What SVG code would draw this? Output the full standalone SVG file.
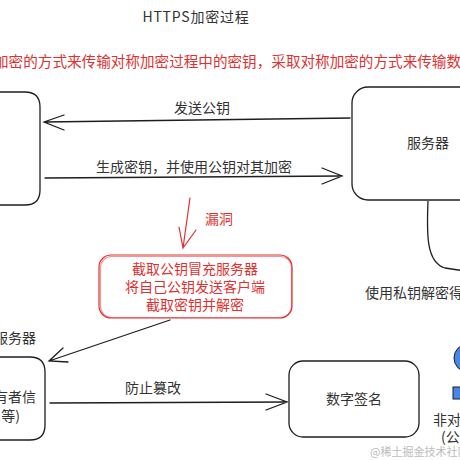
<svg xmlns="http://www.w3.org/2000/svg" width="460" height="460" viewBox="0 0 460 460">
<style>
.t{font-family:"Noto Sans CJK SC","Liberation Sans",sans-serif;font-size:14px;fill:#333}
.r{fill:#e03131}
.box{fill:none;stroke:#1e1e1e;stroke-width:1.3}
.rbox{fill:none;stroke:#e03131;stroke-width:1.2}
.ln{fill:none;stroke:#1e1e1e;stroke-width:1.3;stroke-linecap:round}
.rl{fill:none;stroke:#e03131;stroke-width:1.2;stroke-linecap:round}
</style>
<rect width="460" height="460" fill="#fff"/>
<text class="t" x="196" y="22" text-anchor="middle" style="font-size:14px;letter-spacing:0.8px">HTTPS加密过程</text>
<text class="t r" x="-6" y="67" style="font-size:14.6px">加密的方式来传输对称加密过程中的密钥，采取对称加密的方式来传输数据</text>

<g id="client">
<path class="box" d="M-20 92 L25 92 Q40 92 40 107 L40 190 Q40 205 25 205 L-20 205"/>
</g>
<g id="server">
<rect class="box" x="352" y="87" width="140" height="113" rx="16"/>
<text class="t" x="428" y="148" text-anchor="middle">服务器</text>
</g>
<g id="server-sub">
<path class="box" d="M428 201 C427 230 425 262 445 268 L465 271"/>
<text class="t" x="365" y="298">使用私钥解密得到</text>
</g>
<g id="attacker">
<rect class="rbox" x="99" y="255" width="193" height="63" rx="12"/>
<rect class="rbox" x="100.5" y="256.5" width="191" height="61" rx="11" opacity="0.5"/>
<text class="t r" x="195" y="274" text-anchor="middle">截取公钥冒充服务器</text>
<text class="t r" x="195" y="292" text-anchor="middle">将自己公钥发送客户端</text>
<text class="t r" x="195" y="310" text-anchor="middle">截取密钥并解密</text>
</g>
<g id="cert">
<text class="t" x="36" y="343" text-anchor="end">服务器</text>
<path class="box" d="M-20 357 L30 357 Q45 357 45 372 L45 425 Q45 440 30 440 L-20 440"/>
<text class="t" x="36" y="402" text-anchor="end">有者信</text>
<text class="t" x="20" y="421" text-anchor="end">等)</text>
</g>
<g id="signature">
<rect class="box" x="289" y="361" width="130" height="76" rx="14"/>
<text class="t" x="354" y="404" text-anchor="middle">数字签名</text>
</g>
<g id="asym">
<circle cx="468" cy="358" r="14" fill="#4a86e8" stroke="#1e1e1e" stroke-width="1"/>
<rect x="453" y="387" width="12" height="12" fill="#4a86e8" stroke="#1e1e1e" stroke-width="1"/>
<text class="t" x="433" y="425">非对称加密</text>
<text class="t" x="441" y="442">(公钥</text>
</g>
<g id="connectors">
<path class="ln" d="M350 118 L44 122 M64 115 L44 122 L64 130"/>
<text class="t" x="202" y="113" text-anchor="middle">发送公钥</text>
<path class="ln" d="M45 178 L342 176 M322 168 L342 176 L322 184"/>
<text class="t" x="194" y="172" text-anchor="middle">生成密钥，并使用公钥对其加密</text>
<path class="rl" d="M190 198 L183 248 M179 227 L183 248 L196 230"/>
<text class="t r" x="219" y="224" text-anchor="middle">漏洞</text>
<path class="ln" d="M170 320 L49 361 M63 348 L49 361 L68 362"/>
<path class="ln" d="M50 403 L287 402 M266 394 L287 402 L266 410"/>
<text class="t" x="153" y="393" text-anchor="middle">防止篡改</text>
</g>
<text x="370" y="456" style="font-family:'Noto Sans CJK SC',sans-serif;font-size:11px;fill:#bbb">@稀土掘金技术社区</text>
</svg>
